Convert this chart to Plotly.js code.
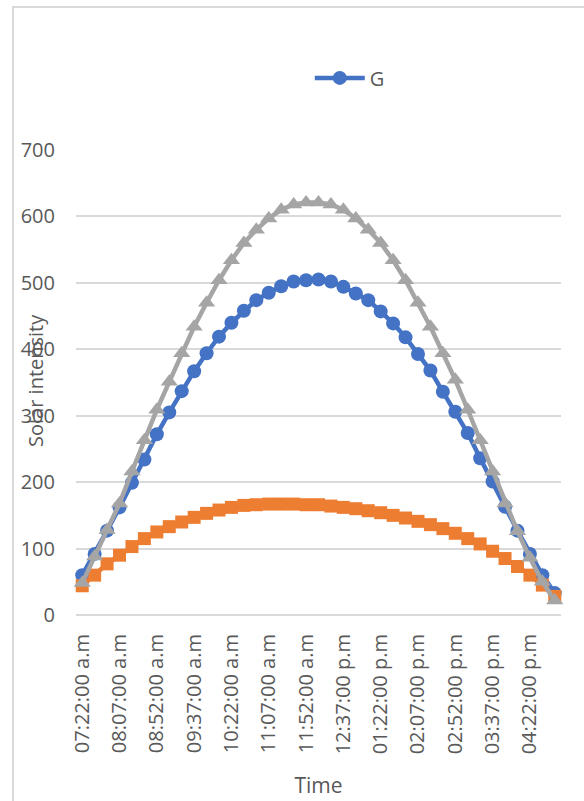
<!DOCTYPE html>
<html>
<head>
<meta charset="utf-8">
<script src="https://cdn.plot.ly/plotly-3.0.1.min.js"></script>
<style>
  html, body { margin: 0; padding: 0; background: #fff; overflow: hidden; }
  #frame { position: absolute; left: 12px; top: 6px; width: 700px; height: 900px;
           border: 2px solid #d9d9d9; pointer-events: none; }
  #chart { position: absolute; left: 0; top: 0; width: 584px; height: 801px; }
</style>
</head>
<body>
<div id="frame"></div>
<div id="chart"></div>
<script>
const times = [
  "07:22:00 a.m","07:37:00 a.m","07:52:00 a.m","08:07:00 a.m","08:22:00 a.m","08:37:00 a.m",
  "08:52:00 a.m","09:07:00 a.m","09:22:00 a.m","09:37:00 a.m","09:52:00 a.m","10:07:00 a.m",
  "10:22:00 a.m","10:37:00 a.m","10:52:00 a.m","11:07:00 a.m","11:22:00 a.m","11:37:00 a.m",
  "11:52:00 a.m","12:07:00 p.m","12:22:00 p.m","12:37:00 p.m","12:52:00 p.m","01:07:00 p.m",
  "01:22:00 p.m","01:37:00 p.m","01:52:00 p.m","02:07:00 p.m","02:22:00 p.m","02:37:00 p.m",
  "02:52:00 p.m","03:07:00 p.m","03:22:00 p.m","03:37:00 p.m","03:52:00 p.m","04:07:00 p.m",
  "04:22:00 p.m","04:37:00 p.m","04:52:00 p.m"
];
const G = [60,92,127,162,199,234,272,305,337,367,394,419,440,458,474,485,495,502,504,
           505,502,494,484,474,457,439,418,393,368,336,306,274,236,201,163,127,92,60,33];
const series2 = [44,60,77,90,103,115,125,133,140,147,153,158,162,165,166,167,167,167,166,
                 166,164,162,160,157,154,150,146,141,136,130,123,115,107,96,85,73,60,45,28];
const series3 = [48,88,128,168,216,263,309,351,394,434,470,504,534,560,580,597,610,618,621,
                 621,618,610,597,580,560,534,504,470,434,394,354,309,263,216,168,126,86,50,22];
const tickLabels = times.filter((t, i) => i % 3 === 0);
const yTicks = [0,100,200,300,400,500,600,700];

const font = "Open Sans, sans-serif";
const grey = "#595959";

const traces = [
  { x: times, y: G, name: "G", type: "scatter", mode: "lines+markers",
    line: { color: "#4472C4", width: 4.5 }, marker: { color: "#4472C4", symbol: "circle", size: 14 },
    cliponaxis: false, showlegend: true },
  { x: times, y: series2, name: "Series2", type: "scatter", mode: "lines+markers",
    line: { color: "#ED7D31", width: 4.5 }, marker: { color: "#ED7D31", symbol: "square", size: 13 },
    cliponaxis: false, showlegend: false },
  { x: times, y: series3, name: "Series3", type: "scatter", mode: "lines+markers",
    line: { color: "#A5A5A5", width: 4.5 }, marker: { color: "#A5A5A5", symbol: "triangle-up", size: 15 },
    cliponaxis: false, showlegend: false }
];

const layout = {
  width: 584, height: 801,
  paper_bgcolor: "rgba(0,0,0,0)", plot_bgcolor: "rgba(0,0,0,0)",
  margin: { l: 76, r: 23, t: 150, b: 186, pad: 0 },
  font: { family: font, size: 20, color: grey },
  showlegend: true,
  legend: { orientation: "h", x: 0.482, xanchor: "left", y: 1.155, yanchor: "middle",
            font: { family: font, size: 20, color: grey }, itemwidth: 50, bgcolor: "rgba(0,0,0,0)" },
  xaxis: {
    type: "category", range: [-0.5, 38.5], tickmode: "array", tickvals: tickLabels, ticktext: tickLabels,
    tickangle: -90, ticks: "", ticklabelstandoff: 14, showgrid: false, zeroline: false,
    showline: false, tickfont: { family: font, size: 20, color: grey },
    title: { text: "Time", font: { family: font, size: 21, color: grey }, standoff: 24 },
    automargin: false, fixedrange: true
  },
  yaxis: {
    range: [0, 700], tickmode: "array", tickvals: yTicks, ticks: "", ticklabelstandoff: 20,
    showgrid: true, gridcolor: "#d9d9d9", gridwidth: 2, zeroline: true, zerolinecolor: "#d9d9d9",
    zerolinewidth: 2, showline: false, tickfont: { family: font, size: 20, color: grey },
    automargin: false, fixedrange: true
  },
  annotations: [
    { text: "Solar intensity", xref: "paper", yref: "paper", x: -0.085, y: 0.505,
      xanchor: "center", yanchor: "middle", textangle: -90, showarrow: false,
      font: { family: font, size: 20, color: grey } }
  ]
};

Plotly.newPlot("chart", traces, layout, { displayModeBar: false, staticPlot: true });
</script>
</body>
</html>
